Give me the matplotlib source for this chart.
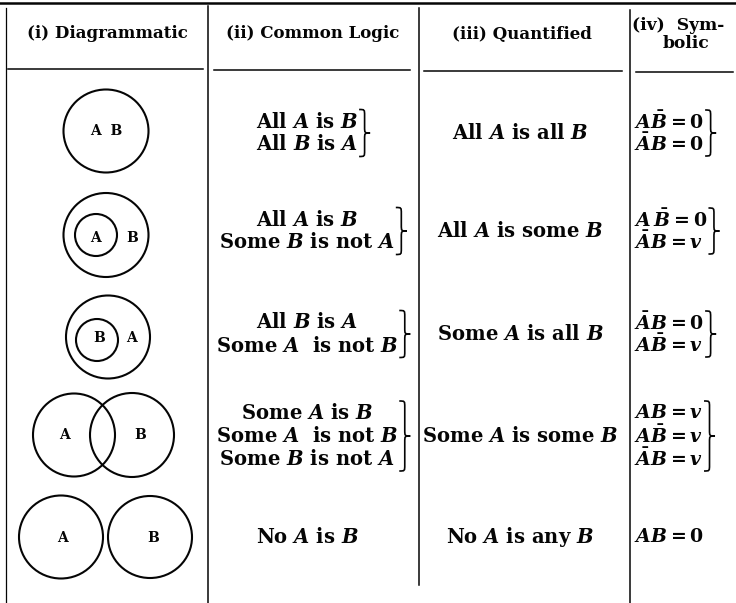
import matplotlib
matplotlib.use('Agg')
from matplotlib import pyplot as plt
from matplotlib.patches import Ellipse, PathPatch
from matplotlib.path import Path

plt.rcParams['font.family'] = 'DejaVu Serif'
plt.rcParams['mathtext.fontset'] = 'custom'
plt.rcParams['mathtext.rm'] = 'DejaVu Serif:bold'
plt.rcParams['mathtext.it'] = 'DejaVu Serif:italic:bold'
plt.rcParams['mathtext.bf'] = 'DejaVu Serif:bold'

# table contents
headers = ['(i) Diagrammatic', '(ii) Common Logic', '(iii) Quantified']
header_iv = ['(iv)  Sym-', 'bolic']

common_logic = [
    ['All $A$ is $B$', 'All $B$ is $A$'],
    ['All $A$ is $B$', 'Some $B$ is not $A$'],
    ['All $B$ is $A$', 'Some $A$  is not $B$'],
    ['Some $A$ is $B$', 'Some $A$  is not $B$', 'Some $B$ is not $A$'],
    ['No $A$ is $B$'],
]
quantified = [
    'All $A$ is all $B$',
    'All $A$ is some $B$',
    'Some $A$ is all $B$',
    'Some $A$ is some $B$',
    'No $A$ is any $B$',
]
symbolic = [
    [r'$A\bar{B}=0$', r'$\bar{A}B=0$'],
    [r'$A\,\bar{B}=0$', r'$\bar{A}B=v$'],
    [r'$\bar{A}B=0$', r'$A\bar{B}=v$'],
    [r'$AB=v$', r'$A\bar{B}=v$', r'$\bar{A}B=v$'],
    [r'$AB=0$'],
]
# circles per row: (cx, cy, width, height)
diagram_circles = [
    [(106, 131, 85, 83)],
    [(106, 235, 85, 84), (96, 235, 42, 42)],
    [(108, 337, 84, 83), (97, 340, 42, 42)],
    [(74, 435, 82, 83), (132, 435, 84, 84)],
    [(61, 537, 84, 83), (150, 537, 84, 82)],
]
# circle labels: (text, x, y)
diagram_labels = [
    [('A  B', 106, 131)],
    [('A', 95, 238), ('B', 132, 238)],
    [('B', 99, 338), ('A', 131, 338)],
    [('A', 64, 435), ('B', 140, 435)],
    [('A', 62, 538), ('B', 153, 538)],
]

W, H = 736, 603
row_y = [133, 231, 334, 436, 537]
fs = 14.1
fs_sym = 13.6

fig = plt.figure(figsize=(W / 100, H / 100), dpi=100)
ax = fig.add_axes([0, 0, 1, 1])
ax.set_xlim(0, W)
ax.set_ylim(H, 0)
ax.axis('off')

lc = '#050505'
# rules
ax.plot([0, W], [3, 3], color=lc, lw=1.8)
ax.plot([6, 6], [8, H], color=lc, lw=0.9)
ax.plot([208, 208], [6, H], color=lc, lw=1.1)
ax.plot([419, 419], [8, 585], color=lc, lw=1.1)
ax.plot([630, 630], [10, H], color=lc, lw=1.1)
for x0, x1, yy in [(8, 203, 69), (214, 410, 70), (424, 622, 71), (636, 733, 72)]:
    ax.plot([x0, x1], [yy, yy], color=lc, lw=1.1)

# header
for xc, lab in zip([107, 313, 522], headers):
    ax.text(xc, 34, lab, ha='center', va='center', fontsize=12, fontweight='bold', color=lc)
ax.text(632, 26, header_iv[0], ha='left', va='center', fontsize=12.3, fontweight='bold', color=lc)
ax.text(686, 43, header_iv[1], ha='center', va='center', fontsize=12.3, fontweight='bold', color=lc)

# diagrams
for circles, labels in zip(diagram_circles, diagram_labels):
    for cx, cy, w, h in circles:
        ax.add_patch(Ellipse((cx, cy), w, h, fill=False, ec=lc, lw=1.5))
    for t, x, y in labels:
        ax.text(x, y, t, ha='center', va='center', fontsize=10, fontweight='bold', color=lc)


def draw_brace(x, y0, y1, w):
    ym = 0.5 * (y0 + y1)
    xm = x + w * 0.5
    r = min(6, (y1 - y0) * 0.15)
    verts = [(x, y0), (xm, y0), (xm, y0), (xm, y0 + r),
             (xm, ym - r),
             (xm, ym), (xm, ym), (x + w, ym),
             (xm, ym), (xm, ym), (xm, ym + r),
             (xm, y1 - r),
             (xm, y1), (xm, y1), (x, y1)]
    codes = [Path.MOVETO] + [Path.CURVE4] * 3 + [Path.LINETO] + [Path.CURVE4] * 6 + \
            [Path.LINETO] + [Path.CURVE4] * 3
    ax.add_patch(PathPatch(Path(verts, codes), fill=False, ec=lc, lw=1.2))


fig.canvas.draw()
renderer = fig.canvas.get_renderer()
inv = ax.transData.inverted()


def right_edge(texts):
    xs = []
    for t in texts:
        bb = t.get_window_extent(renderer)
        xs.append(inv.transform((bb.x1, bb.y0))[0])
    return max(xs)


for i, yc in enumerate(row_y):
    lines = common_logic[i]
    n = len(lines)
    ys = [yc + (k - (n - 1) / 2) * 23 for k in range(n)]
    objs = [ax.text(307, y, t, ha='center', va='center', fontsize=fs, fontweight='bold', color=lc)
            for t, y in zip(lines, ys)]
    if n > 1:
        fig.canvas.draw()
        draw_brace(right_edge(objs) + 1, ys[0] - 12, ys[-1] + 12, 11)

    ax.text(520, yc, quantified[i], ha='center', va='center', fontsize=fs, fontweight='bold', color=lc)

    sym = symbolic[i]
    n = len(sym)
    sp = 22 if n == 2 else 23
    ys = [yc + (k - (n - 1) / 2) * sp for k in range(n)]
    objs = [ax.text(634, y, t, ha='left', va='center', fontsize=fs_sym, color=lc)
            for t, y in zip(sym, ys)]
    if n > 1:
        fig.canvas.draw()
        draw_brace(right_edge(objs) + 1, ys[0] - 12, ys[-1] + 12, 11)

fig.savefig('out.png', dpi=100)
